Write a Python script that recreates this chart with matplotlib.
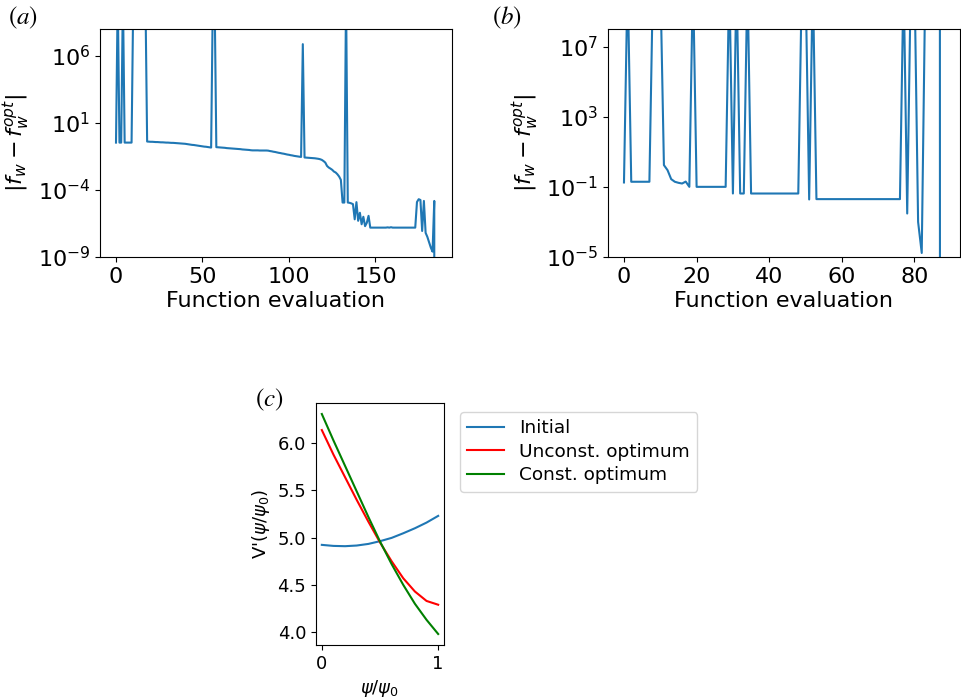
import numpy as np
import matplotlib
matplotlib.use('Agg')
import matplotlib.pyplot as plt
from matplotlib.ticker import NullLocator

# off-scale evaluations (exponent only, they get clipped by ylim)
HA = 10.5
HB = 11.0

# (a) log10 |f_w - f_w^opt| per function evaluation; last one is the optimum (0)
a_log = [
    -0.47, HA, -0.47, -0.47, HA, -0.47, -0.47, -0.47, -0.47, -0.47,
    HA, HA, HA, HA, HA, HA, HA, HA,
    -0.39,
    -0.40, -0.41, -0.41, -0.42, -0.43, -0.43, -0.44, -0.45, -0.45, -0.46, -0.47,
    -0.47, -0.48, -0.49, -0.49, -0.50, -0.51, -0.52, -0.53, -0.54, -0.55, -0.56,
    -0.58, -0.60, -0.62, -0.64, -0.65, -0.67, -0.69, -0.71, -0.73, -0.75, -0.77,
    -0.78, -0.80, -0.82, -0.84,
    HA, HA,
    -0.81, -0.82, -0.83, -0.84, -0.85, -0.86, -0.88, -0.89, -0.90, -0.91, -0.92,
    -0.93, -0.94, -0.95, -0.96, -0.98, -0.99, -1.00, -1.01, -1.02, -1.04,
    -1.05, -1.05, -1.05, -1.05, -1.06, -1.06, -1.06, -1.06, -1.06, -1.07,
    -1.10, -1.12, -1.15, -1.17, -1.20, -1.23, -1.25, -1.28, -1.30, -1.33, -1.36,
    -1.38, -1.41, -1.43, -1.46, -1.48, -1.50, -1.52, -1.54,
    6.87,
    -1.58, -1.59, -1.60, -1.61, -1.62, -1.63, -1.64, -1.66, -1.68, -1.71, -1.76, -1.85,
    -1.96, -2.21, -2.33, -2.41, -2.50, -2.63, -2.70, -2.83, -3.00, -3.25,
    -4.94, -4.94,
    HA,
    -4.94, -4.96, -5.00, -5.06,
    -6.19, -4.91, -6.30, -5.70, -6.56, -6.00, -6.70, -6.45, -5.93,
    -6.81, -6.81, -6.81, -6.81, -6.81, -6.81, -6.81, -6.81, -6.81, -6.81,
    -6.79, -6.81, -6.78, -6.81,
    -6.81, -6.81, -6.81, -6.81, -6.81, -6.81, -6.81, -6.81, -6.81, -6.81, -6.81, -6.81, -6.81,
    -4.90, -4.69, -4.75, -7.06, -4.82, -7.20, -7.50, -7.90, -8.30, -8.60, -4.82,
]

# (b) same quantity for the second run
b_log = [
    -0.75, HB, -0.71, -0.71, -0.71, -0.71, -0.71, -0.71, HB, HB, HB,
    0.24, -0.05, -0.56, -0.71, -0.77, -0.81, -0.70, -1.00,
    HB,
    -1.00, -1.00, -1.00, -1.00, -1.00, -1.00, -1.00, -1.00, -1.00,
    HB, -1.38, HB, -1.38, -1.38, HB,
    -1.38, -1.38, -1.38, -1.38, -1.38, -1.38, -1.38, -1.38, -1.38, -1.38, -1.38,
    -1.38, -1.38, -1.38,
    HB, HB, -1.72, HB,
    -1.70, -1.70, -1.70, -1.70, -1.70, -1.70, -1.70, -1.70, -1.70, -1.70, -1.70,
    -1.70, -1.70, -1.70, -1.70, -1.70, -1.70, -1.70, -1.70, -1.70, -1.70, -1.70,
    -1.70, -1.70,
    HB, -2.52, HB, HB, -3.00, -4.77, HB, HB, HB, HB, HB,
]

# (c) potential derivative profiles
psi = [0.0, 0.1, 0.2, 0.3, 0.4, 0.5, 0.6, 0.7, 0.8, 0.9, 1.0]
v_initial = [4.924, 4.913, 4.910, 4.917, 4.934, 4.963, 4.998, 5.047, 5.100, 5.160, 5.231]
v_unconst = [6.14, 5.88, 5.64, 5.40, 5.17, 4.95, 4.75, 4.57, 4.43, 4.33, 4.29]
v_const = [6.31, 6.03, 5.76, 5.49, 5.22, 4.96, 4.72, 4.50, 4.30, 4.13, 3.98]

assert len(a_log) == 185 and len(b_log) == 88

a_vals = np.append(10.0 ** np.array(a_log), 0.0)
b_vals = np.append(10.0 ** np.array(b_log), 0.0)

fig = plt.figure(figsize=(9.61, 6.98), dpi=100)
W, H = 961, 698

def box(l, t, r, b):
    return [l / W, 1 - b / H, (r - l) / W, (b - t) / H]

ylab = r'$|f_w - f_w^{opt}|$'

ax1 = fig.add_axes(box(100, 29, 452, 257))
ax1.plot(np.arange(len(a_vals)), a_vals, color='#1f77b4', lw=1.5)
ax1.set_yscale('log')
ax1.set_ylim(1e-9, 1e8)
ax1.set_yticks([1e-9, 1e-4, 1e1, 1e6])
ax1.yaxis.set_minor_locator(NullLocator())
ax1.set_xticks([0, 50, 100, 150])
ax1.set_xlabel('Function evaluation', fontsize=16, labelpad=3)
ax1.set_ylabel(ylab, fontsize=16)
ax1.tick_params(labelsize=16)

ax2 = fig.add_axes(box(608, 29, 959.5, 257))
ax2.plot(np.arange(len(b_vals)), b_vals, color='#1f77b4', lw=1.5)
ax2.set_yscale('log')
ax2.set_ylim(1e-5, 1e8)
ax2.set_yticks([1e-5, 1e-1, 1e3, 1e7])
ax2.yaxis.set_minor_locator(NullLocator())
ax2.set_xticks([0, 20, 40, 60, 80])
ax2.set_xlabel('Function evaluation', fontsize=16, labelpad=3)
ax2.set_ylabel(ylab, fontsize=16)
ax2.tick_params(labelsize=16)

ax3 = fig.add_axes(box(316, 403, 444, 645))
ax3.plot(psi, v_initial, color='#1f77b4', lw=1.5, label='Initial')
ax3.plot(psi, v_unconst, color='red', lw=1.5, label='Unconst. optimum')
ax3.plot(psi, v_const, color='green', lw=1.5, label='Const. optimum')
ax3.set_xticks([0, 1])
ax3.set_yticks([4.0, 4.5, 5.0, 5.5, 6.0])
ax3.tick_params(labelsize=13)
ax3.set_xlabel(r'$\psi/\psi_0$', fontsize=13)
ax3.set_ylabel(r"V'$(\psi/\psi_0)$", fontsize=13)
ax3.legend(loc='upper left', bbox_to_anchor=(460 / W, 1 - 412 / H),
           bbox_transform=fig.transFigure, borderaxespad=0,
           fontsize=13.3, labelspacing=0.3)

for txt, x, y in [('(a)', 23, 18), ('(b)', 507, 18), ('(c)', 269, 400)]:
    fig.text(x / W, 1 - y / H, '$' + txt + '$', fontsize=18,
             math_fontfamily='stix', ha='center', va='center')

fig.savefig('out.png', dpi=100)
